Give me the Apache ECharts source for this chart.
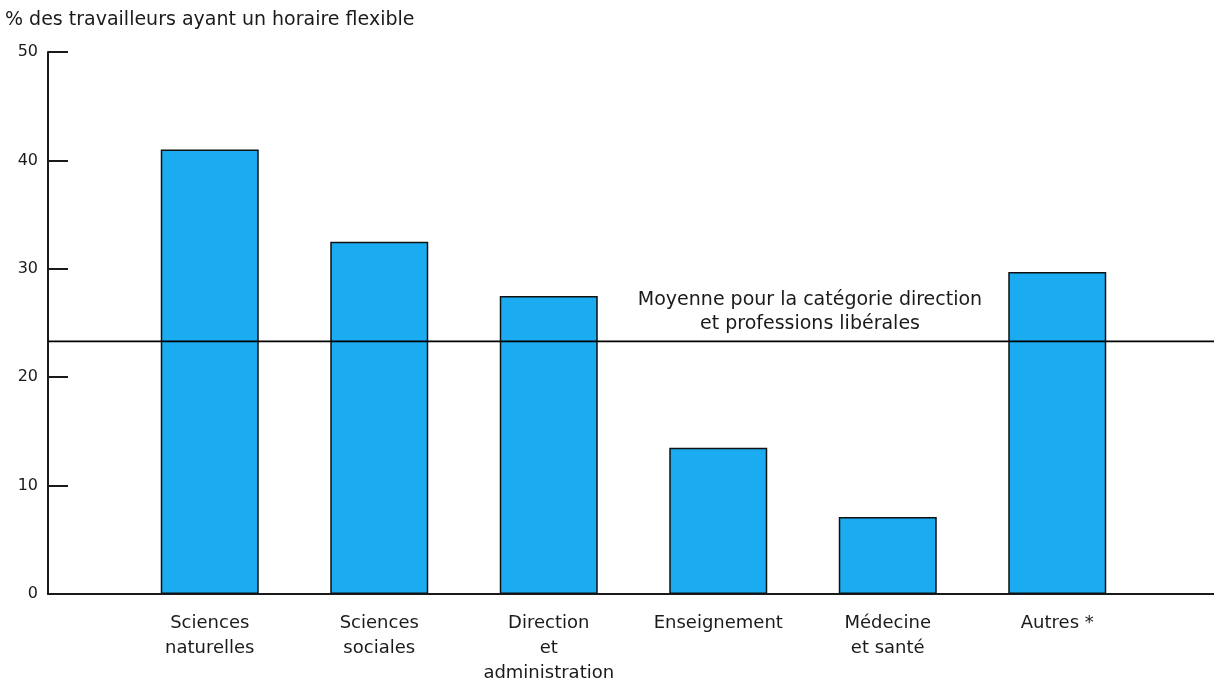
<!DOCTYPE html>
<html>
<head>
<meta charset="utf-8">
<title>Horaire flexible</title>
<script src="https://cdn.jsdelivr.net/npm/echarts@6/dist/echarts.min.js"></script>
<style>
    html, body { margin: 0; padding: 0; background: #fff; }
    #chart { width: 1214px; height: 683px; }
</style>
</head>
<body>
<div id="chart"></div>
<script>
// categories (axe horizontal)
const categories = [
    'Sciences\nnaturelles',
    'Sciences\nsociales',
    'Direction\net\nadministration',
    'Enseignement',
    'Médecine\net santé',
    'Autres *'
]
// % des travailleurs ayant un horaire flexible
const values = [41.0, 32.5, 27.5, 13.5, 7.1, 29.7]
// moyenne pour la catégorie direction et professions libérales
const moyenne = [23.3]
const yTicks = [0, 10, 20, 30, 40, 50]

const font = '"DejaVu Sans", Verdana, sans-serif'
const ink = '#1a1a1a'

const chart = echarts.init(document.getElementById('chart'))

const option = {
    animation: false,
    backgroundColor: '#fff',
    title: [
        {
            text: '% des travailleurs ayant un horaire flexible',
            left: 0,
            top: 6,
            textStyle: { fontFamily: font, fontSize: 19, fontWeight: 'normal', color: ink }
        },
        {
            text: 'Moyenne pour la catégorie direction\net professions libérales',
            left: 805,
            top: 283,
            textAlign: 'center',
            textStyle: { fontFamily: font, fontSize: 19, fontWeight: 'normal', color: ink, lineHeight: 24 }
        }
    ],
    grid: [
        // grille des barres
        { left: 125, right: 72, top: 52, bottom: 89, outerBoundsMode: 'none' },
        // grille pleine largeur : axe horizontal + ligne de moyenne
        { left: 48, right: 0, top: 52, bottom: 89, outerBoundsMode: 'none' }
    ],
    xAxis: [
        {
            type: 'category',
            gridIndex: 0,
            data: categories,
            axisLine: { show: false },
            axisTick: { show: false },
            axisLabel: {
                fontFamily: font,
                fontSize: 18,
                color: ink,
                lineHeight: 25,
                margin: 17,
                interval: 0
            }
        },
        {
            type: 'value',
            gridIndex: 1,
            min: 0,
            max: 1,
            axisLine: { show: true, lineStyle: { color: ink, width: 2 } },
            axisTick: { show: false },
            axisLabel: { show: false },
            splitLine: { show: false }
        }
    ],
    yAxis: [
        {
            type: 'value',
            gridIndex: 0,
            min: yTicks[0],
            max: yTicks[yTicks.length - 1],
            interval: 10,
            offset: 77,
            axisLine: { show: true, lineStyle: { color: ink, width: 2 } },
            axisTick: { show: true, inside: true, length: 20, lineStyle: { color: ink, width: 2 } },
            axisLabel: { fontFamily: font, fontSize: 16, color: ink, margin: 10 },
            splitLine: { show: false }
        },
        {
            type: 'value',
            gridIndex: 1,
            min: 0,
            max: 50,
            show: false
        }
    ],
    series: [
        {
            type: 'bar',
            xAxisIndex: 0,
            yAxisIndex: 0,
            data: values,
            barWidth: 98,
            z: 2,
            itemStyle: { color: '#1babf0', borderColor: '#111', borderWidth: 1.5 }
        },
        {
            type: 'line',
            xAxisIndex: 1,
            yAxisIndex: 1,
            data: [[0, moyenne[0]], [1, moyenne[0]]],
            symbol: 'none',
            z: 5,
            lineStyle: { color: '#000', width: 1.8 }
        }
    ]
}

chart.setOption(option)
</script>
</body>
</html>
